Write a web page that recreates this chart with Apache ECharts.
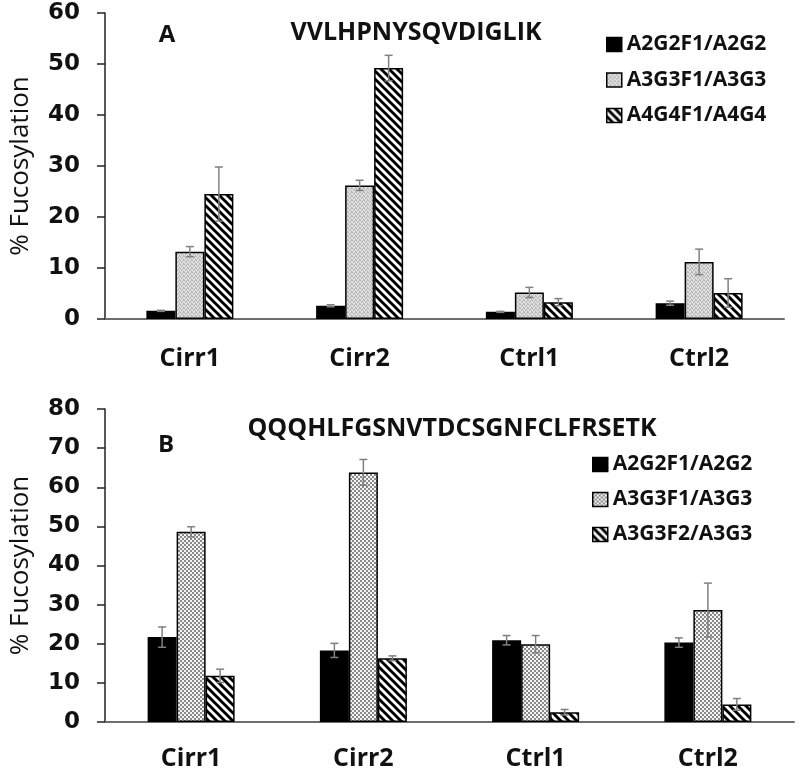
<!DOCTYPE html>
<html><head><meta charset="utf-8">
<script src="https://cdn.jsdelivr.net/npm/echarts@6/dist/echarts.min.js"></script>
<style>html,body{margin:0;padding:0;background:#fff}#c{width:800px;height:777px}</style>
</head><body><div id="c"></div>
<script>
// ---------- data ----------
const categories = ['Cirr1', 'Cirr2', 'Ctrl1', 'Ctrl2'];
const titleA = 'VVLHPNYSQVDIGLIK';
const titleB = 'QQQHLFGSNVTDCSGNFCLFRSETK';
const panelA = 'A';
const panelB = 'B';
const yNameText = '% Fucosylation';
const namesA = ['A2G2F1/A2G2', 'A3G3F1/A3G3', 'A4G4F1/A4G4'];
const namesB = ['A2G2F1/A2G2', 'A3G3F1/A3G3', 'A3G3F2/A3G3'];
const yMaxA = 60, yMaxB = 80, yStep = 10;

const aBlack = [1.6, 2.6, 1.4, 3.1];
const aBlackErr = [0.1, 0.2, 0.1, 0.4];
const aGray = [13.2, 26.2, 5.2, 11.2];
const aGrayErr = [1.0, 1.0, 1.0, 2.5];
const aHatch = [24.5, 49.2, 3.3, 5.1];
const aHatchErr = [5.3, 2.5, 0.7, 2.8];

const bBlack = [21.7, 18.3, 20.9, 20.3];
const bBlackErr = [2.6, 1.8, 1.2, 1.2];
const bGray = [48.6, 63.8, 19.9, 28.6];
const bGrayErr = [1.3, 3.3, 2.2, 6.9];
const bHatch = [11.8, 16.3, 2.5, 4.5];
const bHatchErr = [1.7, 0.6, 0.7, 1.5];

// ---------- patterns ----------
function tile(w, h, draw) {
  const c = document.createElement('canvas');
  c.width = w; c.height = h;
  const g = c.getContext('2d');
  draw(g);
  return { image: c, repeat: 'repeat' };
}
const stipple = tile(4, 4, g => {
  g.fillStyle = '#d4d4d4'; g.fillRect(0, 0, 4, 4);
  g.fillStyle = '#b4b4b4';
  [[0,0],[2,1],[1,2],[3,3],[3,0]].forEach(p => g.fillRect(p[0], p[1], 1, 1));
  g.fillStyle = '#e8e8e8';
  [[1,0],[0,2],[2,3],[3,1]].forEach(p => g.fillRect(p[0], p[1], 1, 1));
});
const checker = tile(4, 4, g => {
  g.fillStyle = '#f4f4f4'; g.fillRect(0, 0, 4, 4);
  g.fillStyle = '#8a8a8a';
  g.fillRect(0, 0, 2, 2); g.fillRect(2, 2, 2, 2);
});
const hatch = tile(8, 8, g => {
  g.fillStyle = '#fff'; g.fillRect(0, 0, 8, 8);
  g.strokeStyle = '#000'; g.lineWidth = 3;
  [-8, 0, 8].forEach(o => { g.beginPath(); g.moveTo(o - 1, -1); g.lineTo(o + 9, 9); g.stroke(); });
});

const BAR_W = 29;
const FONT = 'Open Sans';
const TXT = '#111';

function barSeries(name, data, color, gi) {
  return {
    type: 'bar', name, data, xAxisIndex: gi, yAxisIndex: gi,
    barWidth: BAR_W, barGap: '0%',
    itemStyle: { color, borderColor: '#000', borderWidth: 1.5 },
    emphasis: { disabled: true }, z: 2
  };
}
function errSeries(groups, gi) {
  const data = [];
  groups.forEach((gr, k) => gr.v.forEach((v, i) => data.push([i, v, gr.e[i], k])));
  return {
    type: 'custom', xAxisIndex: gi, yAxisIndex: gi, z: 5, silent: true,
    data,
    renderItem: function (params, api) {
      const i = api.value(0), v = api.value(1), e = api.value(2), k = api.value(3);
      const off = (k - 1) * BAR_W;
      const t = api.coord([i, v + e]);
      const b = api.coord([i, Math.max(0, v - e)]);
      const x = t[0] + off;
      const st = { stroke: '#808080', lineWidth: 1.5 };
      return {
        type: 'group', children: [
          { type: 'line', shape: { x1: x, y1: t[1], x2: x, y2: b[1] }, style: st },
          { type: 'line', shape: { x1: x - 4, y1: t[1], x2: x + 4, y2: t[1] }, style: st },
          { type: 'line', shape: { x1: x - 4, y1: b[1], x2: x + 4, y2: b[1] }, style: st }
        ]
      };
    }
  };
}
function xAx(gi, margin) {
  return {
    type: 'category', gridIndex: gi, data: categories,
    axisLine: { lineStyle: { color: '#6e6e6e', width: 2 } },
    axisTick: { show: false },
    axisLabel: { fontFamily: FONT, fontWeight: 'bold', fontSize: 25, lineHeight: 25, color: TXT, margin, interval: 0 }
  };
}
function yAx(gi, max) {
  return {
    type: 'value', gridIndex: gi, min: 0, max, interval: yStep,
    name: yNameText, nameLocation: 'middle', nameGap: 71,
    nameTextStyle: { fontFamily: FONT, fontSize: 26, lineHeight: 26, color: TXT },
    axisLine: { show: true, lineStyle: { color: '#222', width: 1.5 } },
    axisTick: { show: true, length: 8, lineStyle: { color: '#222', width: 1.5 } },
    splitLine: { show: false },
    axisLabel: { fontFamily: 'DejaVu Sans', fontWeight: 'bold', fontSize: 23, color: TXT, margin: 25 }
  };
}
function legend(names, colors, left, top, gap) {
  return {
    orient: 'vertical', left, top, padding: 0, itemGap: gap,
    itemWidth: 15, itemHeight: 14, icon: 'rect', selectedMode: false,
    textStyle: { fontFamily: FONT, fontWeight: 'bold', fontSize: 21, lineHeight: 21, color: TXT },
    data: names.map((n, k) => ({ name: n, itemStyle: { color: colors[k], borderColor: '#000', borderWidth: 1.5 } }))
  };
}
function label(text, x, y, size) {
  return {
    type: 'text', x, y, z: 10,
    style: { text, fontFamily: FONT, fontWeight: 'bold', fontSize: size, fill: TXT,
             textAlign: 'center', textVerticalAlign: 'middle', align: 'center', verticalAlign: 'middle' }
  };
}

const colorsA = ['#000', stipple, hatch];
const colorsB = ['#000', checker, hatch];

const option = {
  animation: false,
  backgroundColor: '#fff',
  grid: [
    { left: 102, right: 16, top: 13, bottom: 458 },
    { left: 102, right: 6, top: 409, bottom: 55 }
  ],
  xAxis: [xAx(0, 27), xAx(1, 24)],
  yAxis: [yAx(0, yMaxA), yAx(1, yMaxB)],
  legend: [
    legend(namesA, colorsA, 606, 34, 14.5),
    legend(namesB, colorsB, 592, 454, 14)
  ],
  graphic: [
    label(panelA, 167, 35, 24),
    label(titleA, 416, 33, 25),
    label(panelB, 166, 445, 24),
    label(titleB, 452, 429, 25)
  ],
  series: [
    barSeries(namesA[0], aBlack, colorsA[0], 0),
    barSeries(namesA[1], aGray, colorsA[1], 0),
    barSeries(namesA[2], aHatch, colorsA[2], 0),
    errSeries([{ v: aBlack, e: aBlackErr }, { v: aGray, e: aGrayErr }, { v: aHatch, e: aHatchErr }], 0),
    barSeries(namesB[0], bBlack, colorsB[0], 1),
    barSeries(namesB[1], bGray, colorsB[1], 1),
    barSeries(namesB[2], bHatch, colorsB[2], 1),
    errSeries([{ v: bBlack, e: bBlackErr }, { v: bGray, e: bGrayErr }, { v: bHatch, e: bHatchErr }], 1)
  ]
};
const chart = echarts.init(document.getElementById('c'), null, { renderer: 'canvas' });
chart.setOption(option);
</script>
</body></html>
